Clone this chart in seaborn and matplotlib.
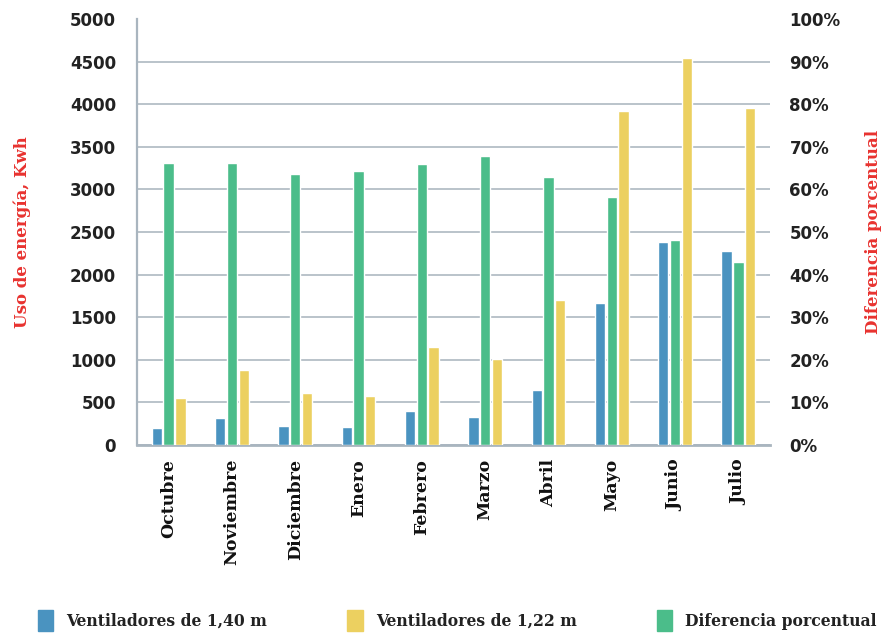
import matplotlib
matplotlib.use("Agg")
import matplotlib.pyplot as plt
from matplotlib.patches import Patch
import seaborn as sns
import pandas as pd

meses = ["Octubre", "Noviembre", "Diciembre", "Enero", "Febrero", "Marzo",
         "Abril", "Mayo", "Junio", "Julio"]
vent_140 = [200, 314, 225, 214, 402, 332, 640, 1666, 2386, 2280]
vent_122 = [550, 880, 613, 578, 1145, 1012, 1702, 3920, 4545, 3955]
dif_pct = [66.3, 66.1, 63.5, 64.3, 65.9, 67.8, 63.0, 58.1, 48.2, 43.0]

lbl_140 = "Ventiladores de 1,40 m"
lbl_122 = "Ventiladores de 1,22 m"
lbl_dif = "Diferencia porcentual"

c_blue = "#4a93c0"
c_yellow = "#ecd060"
c_green = "#4bbd8a"
c_red = "#e8322f"
c_grid = "#b4bec6"

hue_order = [lbl_140, lbl_dif, lbl_122]
palette = {lbl_140: c_blue, lbl_dif: c_green, lbl_122: c_yellow}

df_kwh = pd.DataFrame({
    "mes": meses * 2,
    "valor": vent_140 + vent_122,
    "serie": [lbl_140] * len(meses) + [lbl_122] * len(meses),
})
df_pct = pd.DataFrame({"mes": meses, "valor": dif_pct, "serie": [lbl_dif] * len(meses)})

sns.set_theme(style="white")
plt.rcParams["font.family"] = ["DejaVu Sans"]

fig = plt.figure(figsize=(8.93, 6.33), dpi=100)
ax = fig.add_axes([137 / 893, 1 - 445 / 633, (770 - 137) / 893, (445 - 19) / 633])
ax2 = ax.twinx()

sns.barplot(data=df_kwh, x="mes", y="valor", hue="serie", hue_order=hue_order,
            palette=palette, order=meses, width=0.555, gap=0.12, dodge=True,
            errorbar=None, legend=False, ax=ax, saturation=1, zorder=3)
sns.barplot(data=df_pct, x="mes", y="valor", hue="serie", hue_order=hue_order,
            palette=palette, order=meses, width=0.555, gap=0.12, dodge=True,
            errorbar=None, legend=False, ax=ax2, saturation=1, zorder=3)

ax.set_ylim(0, 5000)
ax2.set_ylim(0, 100)
ax.set_xlim(-0.5, len(meses) - 0.5)
ax.set_yticks(range(0, 5001, 500))
ax2.set_yticks(range(0, 101, 10))
ax2.set_yticklabels([f"{v}%" for v in range(0, 101, 10)])

ax.yaxis.grid(True, color=c_grid, linewidth=1.3, zorder=0)
ax.set_axisbelow(True)
ax2.grid(False)
gl = ax.yaxis.get_gridlines()
gl[-1].set_visible(False)

for a in (ax, ax2):
    for s in a.spines.values():
        s.set_visible(False)
ax.spines["left"].set_visible(True)
ax.spines["left"].set_color("#a9b5bf")
ax.spines["left"].set_linewidth(1.6)
ax.spines["bottom"].set_visible(True)
ax.spines["bottom"].set_color("#a9b5bf")
ax.spines["bottom"].set_linewidth(2)

ax.tick_params(axis="y", length=0, pad=15, labelsize=12, labelcolor="#222222")
ax2.tick_params(axis="y", length=0, pad=14, labelsize=12, labelcolor="#222222")
for t in ax.get_yticklabels() + ax2.get_yticklabels():
    t.set_fontweight("bold")

ax.tick_params(axis="x", length=0, pad=10)
ax.set_xticks(range(len(meses)))
ax.set_xticklabels(meses, rotation=90, fontsize=12.5, fontweight="bold",
                   family="DejaVu Serif", color="#111111", va="top", ha="center")
ax.set_xlabel("")
ax.set_ylabel("Uso de energía, Kwh", color=c_red, fontsize=12, fontweight="bold",
              family="DejaVu Serif")
ax2.set_ylabel("Diferencia porcentual", color=c_red, fontsize=12, fontweight="bold",
               family="DejaVu Serif")
ax.yaxis.set_label_coords(-0.167, 0.5)
ax2.yaxis.set_label_coords(1.150, 0.5)

handles = [Patch(color=c_blue, label=lbl_140),
           Patch(color=c_yellow, label=lbl_122),
           Patch(color=c_green, label=lbl_dif)]
leg = fig.legend(handles=handles, loc="center", bbox_to_anchor=(0.512, 0.02), ncol=3,
                 frameon=False, handlelength=0.9, handleheight=1.5, handletextpad=0.75,
                 columnspacing=4.6,
                 prop={"family": "DejaVu Serif", "weight": "bold", "size": 12.5,
                       "stretch": "condensed"})
for t in leg.get_texts():
    t.set_color("#222222")

fig.savefig("out.png", dpi=100)
